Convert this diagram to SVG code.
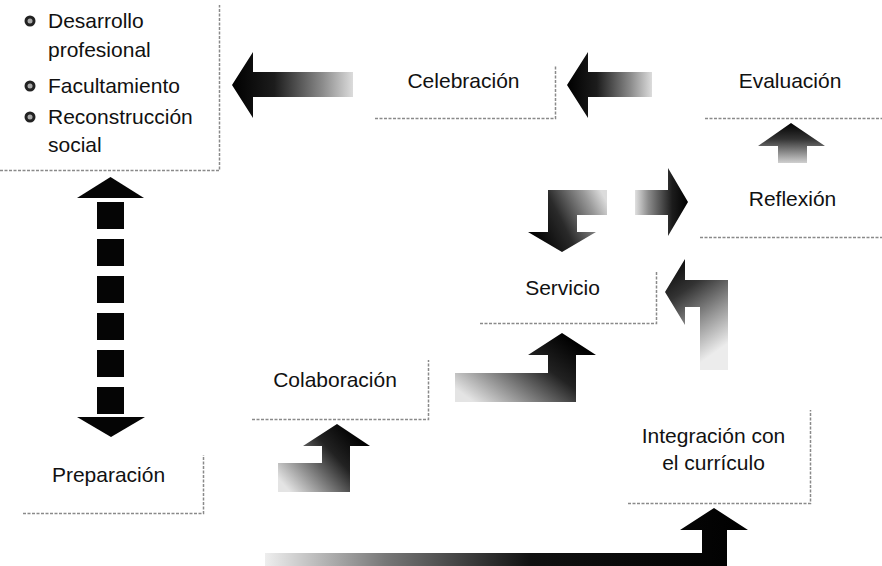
<svg xmlns="http://www.w3.org/2000/svg" width="882" height="566" viewBox="0 0 882 566">
<style>
  .t { font-family: "Liberation Sans", Arial, sans-serif; font-size: 21px; fill: #111; }
  .b { fill: none; stroke: #8a8a8a; stroke-width: 1.5; stroke-dasharray: 3 1.5; }
</style>
<defs>
  <linearGradient id="gL" x1="0" y1="0" x2="1" y2="0">
    <stop offset="0" stop-color="#000"/><stop offset="0.35" stop-color="#1c1c1c"/><stop offset="0.75" stop-color="#8c8c8c"/><stop offset="1" stop-color="#dcdcdc"/>
  </linearGradient>
  <linearGradient id="gR" x1="1" y1="0" x2="0" y2="0">
    <stop offset="0" stop-color="#000"/><stop offset="0.3" stop-color="#1c1c1c"/><stop offset="0.75" stop-color="#8c8c8c"/><stop offset="1" stop-color="#e0e0e0"/>
  </linearGradient>
  <linearGradient id="gU" x1="0" y1="0" x2="0" y2="1">
    <stop offset="0" stop-color="#000"/><stop offset="0.4" stop-color="#333"/><stop offset="1" stop-color="#d0d0d0"/>
  </linearGradient>
  <linearGradient id="gD" x1="0" y1="0.6" x2="1" y2="0.2">
    <stop offset="0" stop-color="#000"/><stop offset="0.4" stop-color="#2a2a2a"/><stop offset="0.8" stop-color="#999"/><stop offset="1" stop-color="#dcdcdc"/>
  </linearGradient>
  <linearGradient id="gE" x1="0" y1="0" x2="0.4" y2="1">
    <stop offset="0" stop-color="#000"/><stop offset="0.35" stop-color="#333"/><stop offset="0.7" stop-color="#999"/><stop offset="1" stop-color="#ececec"/>
  </linearGradient>
  <linearGradient id="gS" x1="0.9" y1="0.2" x2="0" y2="0.8">
    <stop offset="0" stop-color="#000"/><stop offset="0.35" stop-color="#222"/><stop offset="0.75" stop-color="#999"/><stop offset="1" stop-color="#e4e4e4"/>
  </linearGradient>
  <linearGradient id="gB" x1="1" y1="0" x2="0" y2="0">
    <stop offset="0" stop-color="#000"/><stop offset="0.45" stop-color="#111"/><stop offset="0.75" stop-color="#777"/><stop offset="1" stop-color="#eee"/>
  </linearGradient>
</defs>
<rect width="882" height="566" fill="#fff"/>

<g id="objetivos">
  <path class="b" d="M0 170.5 H219.5 V5"/>
  <circle cx="30" cy="21" r="5.5" fill="#222"/><circle cx="30" cy="21" r="2.5" fill="#aaa"/>
  <circle cx="30" cy="86" r="5.5" fill="#222"/><circle cx="30" cy="86" r="2.5" fill="#aaa"/>
  <circle cx="30" cy="117" r="5.5" fill="#222"/><circle cx="30" cy="117" r="2.5" fill="#aaa"/>
  <text class="t" x="48" y="28">Desarrollo</text>
  <text class="t" x="48" y="57">profesional</text>
  <text class="t" x="48" y="93">Facultamiento</text>
  <text class="t" x="48" y="124">Reconstrucción</text>
  <text class="t" x="48" y="152">social</text>
</g>
<g id="celebracion">
  <path class="b" d="M375 118.5 H555.5 V65"/>
  <text class="t" x="463.5" y="88" text-anchor="middle">Celebración</text>
</g>
<g id="evaluacion">
  <path class="b" d="M705 118.5 H882"/>
  <text class="t" x="790" y="88" text-anchor="middle">Evaluación</text>
</g>
<g id="reflexion">
  <path class="b" d="M700 237.5 H882"/>
  <text class="t" x="792.5" y="206" text-anchor="middle">Reflexión</text>
</g>
<g id="servicio">
  <path class="b" d="M480 323.5 H656.5 V272"/>
  <text class="t" x="562.5" y="295" text-anchor="middle">Servicio</text>
</g>
<g id="colaboracion">
  <path class="b" d="M252 419.5 H428.5 V360"/>
  <text class="t" x="335" y="387" text-anchor="middle">Colaboración</text>
</g>
<g id="preparacion">
  <path class="b" d="M23 513.5 H203.5 V455"/>
  <text class="t" x="108.5" y="482" text-anchor="middle">Preparación</text>
</g>
<g id="integracion">
  <path class="b" d="M628 503.5 H810.5 V410"/>
  <text class="t" x="713.5" y="443" text-anchor="middle">Integración con</text>
  <text class="t" x="713.5" y="470" text-anchor="middle">el currículo</text>
</g>

<g id="connectors">
  <polygon fill="url(#gL)" points="232,85 253,52 253,72 353,72 353,97 253,97 253,118"/>
  <polygon fill="url(#gL)" points="567,85 588,52 588,72 652,72 652,97 588,97 588,118"/>
  <polygon fill="url(#gU)" points="791,123 825,146 807,146 807,163 778,163 778,146 758,146"/>
  <polygon fill="url(#gR)" points="635,190 668,190 668,168 688,202 668,236 668,215 635,215"/>
  <polygon fill="url(#gD)" points="607,190 548,190 548,232 528,232 562,252 596,232 577,232 577,215 607,215"/>
  <polygon fill="url(#gE)" points="665,292 685,259 685,280 728,280 728,370 700,370 700,307 685,307 685,325"/>
  <polygon fill="url(#gS)" points="562,333 596,355 576,355 576,402 455,402 455,373 548,373 548,355 528,355"/>
  <polygon fill="url(#gS)" points="337,424 370,446 350,446 350,492 278,492 278,463 322,463 322,446 303,446"/>
  <polygon fill="url(#gB)" points="714,508 748,530 727,530 727,566 265,566 265,553 702,553 702,530 680,530"/>
  <g fill="#050505">
    <polygon points="110.5,177 144,198 77,198"/>
    <rect x="97" y="202" width="27" height="27"/>
    <rect x="97" y="239" width="27" height="27"/>
    <rect x="97" y="276" width="27" height="27"/>
    <rect x="97" y="313" width="27" height="27"/>
    <rect x="97" y="350" width="27" height="27"/>
    <rect x="97" y="387" width="27" height="27"/>
    <polygon points="77,417 145,417 111,437"/>
  </g>
</g>
</svg>
